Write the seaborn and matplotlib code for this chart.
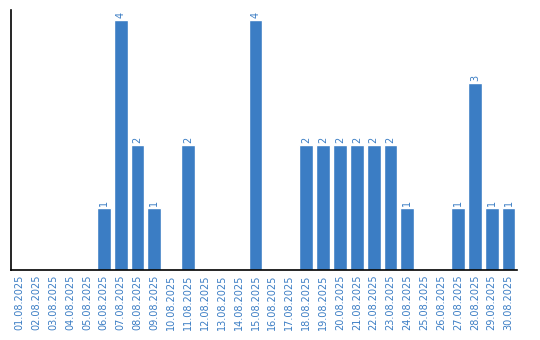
import matplotlib
matplotlib.use("Agg")
import matplotlib.pyplot as plt
import seaborn as sns
import pandas as pd

dates = [f"{d:02d}.08.2025" for d in range(1, 31)]
values = [0, 0, 0, 0, 0, 1, 4, 2, 1, 0, 2, 0, 0, 0, 4, 0, 0, 2, 2, 2, 2, 2, 2, 1, 0, 0, 1, 3, 1, 1]

df = pd.DataFrame({"date": dates, "value": values})
color = "#3b7dc4"

sns.set_style("white")
fig = plt.figure(figsize=(5.4, 3.4), dpi=100)
ax = fig.add_axes([0.0204, 0.206, 0.937, 0.764])
sns.barplot(data=df, x="date", y="value", color=color, saturation=1, width=0.82, ax=ax)

for i, v in enumerate(values):
    if v > 0:
        ax.text(i, v + 0.03, str(v), rotation=90, ha="center", va="bottom",
                fontsize=7, color=color)

ax.set_ylim(0, 4.16)
ax.set_xlim(-0.5, 29.5)
ax.set_xlabel("")
ax.set_ylabel("")
ax.set_yticks([])
ax.tick_params(axis="x", length=0, pad=3, labelsize=7, labelcolor=color, rotation=90)
for s in ["top", "right"]:
    ax.spines[s].set_visible(False)
for s in ["left", "bottom"]:
    ax.spines[s].set_color("black")
    ax.spines[s].set_linewidth(1.2)

fig.savefig("out.png", dpi=100)
